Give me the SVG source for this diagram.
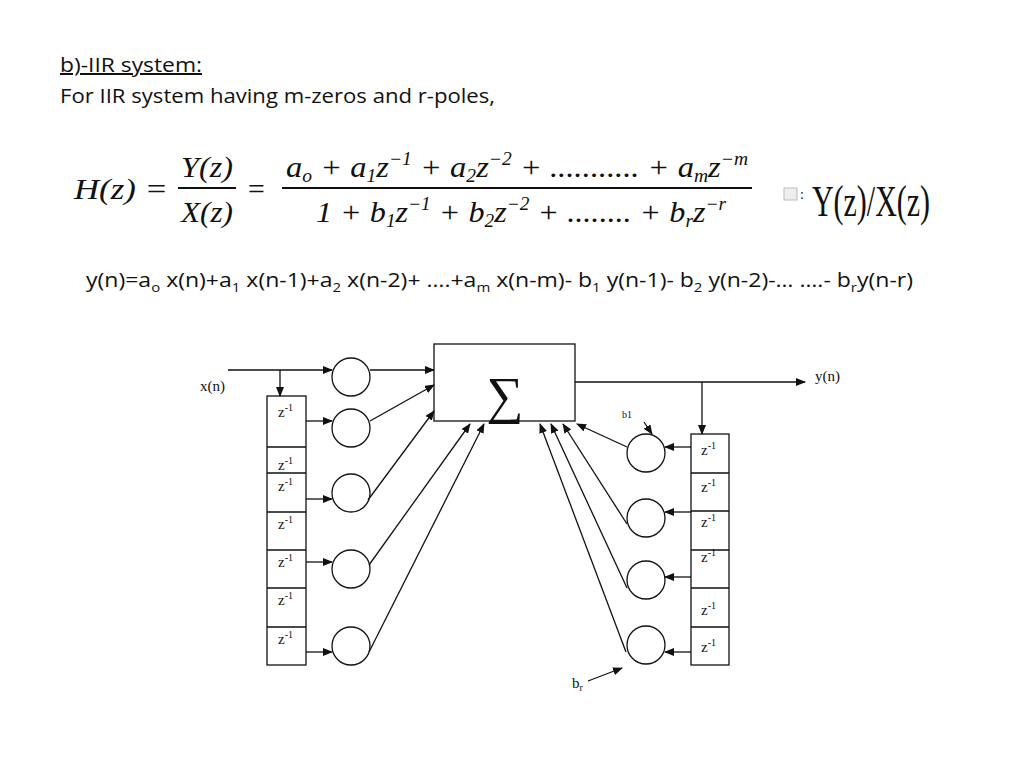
<svg xmlns="http://www.w3.org/2000/svg" width="1024" height="768" viewBox="0 0 1024 768">
<style>
.t{font-family:"Open Sans","Liberation Sans",sans-serif;fill:#111}
.m{font-family:"Liberation Serif",serif;font-style:italic;fill:#111}
.r{font-family:"Liberation Serif",serif;fill:#111}
.s{font-family:"Liberation Serif",serif;fill:#111;font-size:15px}
.ln{stroke:#111;stroke-width:1.3;fill:none}
.bx{stroke:#111;stroke-width:1.3;fill:#fff}
</style>
<defs><marker id="a" markerWidth="10" markerHeight="8" refX="9" refY="4" orient="auto" markerUnits="userSpaceOnUse"><path d="M0,0L10,4L0,8z" fill="#111"/></marker></defs>
<rect width="1024" height="768" fill="#fff"/>
<text class="t" x="60" y="72" font-size="20" text-decoration="underline" textLength="142" lengthAdjust="spacingAndGlyphs">b)-IIR system:</text>
<text class="t" x="60" y="103" font-size="20" textLength="435" lengthAdjust="spacingAndGlyphs">For IIR system having m-zeros and r-poles,</text>
<g id="formula">
<text class="m" x="74" y="199" font-size="30" textLength="94" lengthAdjust="spacingAndGlyphs">H(z) =</text>
<text class="m" x="181" y="177" font-size="30" textLength="52" lengthAdjust="spacingAndGlyphs">Y(z)</text>
<line x1="178" y1="188" x2="236" y2="188" stroke="#111" stroke-width="2"/>
<text class="m" x="181" y="222" font-size="30" textLength="52" lengthAdjust="spacingAndGlyphs">X(z)</text>
<text class="m" x="246" y="199" font-size="30">=</text>
<text class="m" x="286" y="177" font-size="30" textLength="462" lengthAdjust="spacingAndGlyphs">a<tspan font-size="18" dy="5">o</tspan><tspan dy="-5"> + a</tspan><tspan font-size="18" dy="5">1</tspan><tspan dy="-5">z</tspan><tspan font-size="18" dy="-12">−1</tspan><tspan dy="12"> + a</tspan><tspan font-size="18" dy="5">2</tspan><tspan dy="-5">z</tspan><tspan font-size="18" dy="-12">−2</tspan><tspan dy="12"> + ........... + a</tspan><tspan font-size="18" dy="5">m</tspan><tspan dy="-5">z</tspan><tspan font-size="18" dy="-12">−m</tspan></text>
<line x1="282" y1="188" x2="752" y2="188" stroke="#111" stroke-width="2"/>
<text class="m" x="316" y="222" font-size="30" textLength="410" lengthAdjust="spacingAndGlyphs">1 + b<tspan font-size="18" dy="5">1</tspan><tspan dy="-5">z</tspan><tspan font-size="18" dy="-12">−1</tspan><tspan dy="12"> + b</tspan><tspan font-size="18" dy="5">2</tspan><tspan dy="-5">z</tspan><tspan font-size="18" dy="-12">−2</tspan><tspan dy="12"> + ........ + b</tspan><tspan font-size="18" dy="5">r</tspan><tspan dy="-5">z</tspan><tspan font-size="18" dy="-12">−r</tspan></text>
<rect x="784" y="188" width="13" height="12" fill="#eee" stroke="#bbb" stroke-width="1"/>
<text class="r" x="800" y="199" font-size="14" fill="#888">:</text>
<text class="r" x="812" y="216" font-size="44" textLength="118" lengthAdjust="spacingAndGlyphs">Y(z)/X(z)</text>
</g>
<text class="t" x="86" y="287" font-size="20" textLength="827" lengthAdjust="spacingAndGlyphs">y(n)=a<tspan font-size="13" dy="5">o</tspan><tspan dy="-5"> x(n)+a</tspan><tspan font-size="13" dy="5">1</tspan><tspan dy="-5"> x(n-1)+a</tspan><tspan font-size="13" dy="5">2</tspan><tspan dy="-5"> x(n-2)+ ….+a</tspan><tspan font-size="13" dy="5">m</tspan><tspan dy="-5"> x(n-m)- b</tspan><tspan font-size="13" dy="5">1</tspan><tspan dy="-5"> y(n-1)- b</tspan><tspan font-size="13" dy="5">2</tspan><tspan dy="-5"> y(n-2)-… ….- b</tspan><tspan font-size="13" dy="5">r</tspan><tspan dy="-5">y(n-r)</tspan></text>
<g id="sum"><rect class="bx" x="434" y="344" width="141" height="77"/><text class="r" x="505" y="413" font-size="52" text-anchor="middle">∑</text></g>
<g id="delay-left">
<rect class="bx" x="267" y="396" width="39" height="269"/>
<path class="ln" d="M267,447H306M267,473H306M267,512H306M267,550H306M267,588H306M267,627H306"/>
<g class="s"><text x="278" y="417">z<tspan font-size="10" dy="-6">-1</tspan></text><text x="278" y="470">z<tspan font-size="10" dy="-6">-1</tspan></text><text x="278" y="491">z<tspan font-size="10" dy="-6">-1</tspan></text><text x="278" y="529">z<tspan font-size="10" dy="-6">-1</tspan></text><text x="278" y="567">z<tspan font-size="10" dy="-6">-1</tspan></text><text x="278" y="605">z<tspan font-size="10" dy="-6">-1</tspan></text><text x="278" y="644">z<tspan font-size="10" dy="-6">-1</tspan></text></g>
</g>
<g id="delay-right">
<rect class="bx" x="691" y="434" width="38" height="231"/>
<path class="ln" d="M691,473H729M691,511H729M691,550H729M691,588H729M691,627H729"/>
<g class="s"><text x="701" y="455">z<tspan font-size="10" dy="-6">-1</tspan></text><text x="701" y="492">z<tspan font-size="10" dy="-6">-1</tspan></text><text x="701" y="527">z<tspan font-size="10" dy="-6">-1</tspan></text><text x="701" y="562">z<tspan font-size="10" dy="-6">-1</tspan></text><text x="701" y="615">z<tspan font-size="10" dy="-6">-1</tspan></text><text x="701" y="652">z<tspan font-size="10" dy="-6">-1</tspan></text></g>
</g>
<g id="mult-left" class="ln"><circle cx="351" cy="377" r="19"/><circle cx="351" cy="428" r="19"/><circle cx="351" cy="493" r="19"/><circle cx="351" cy="569" r="19"/><circle cx="351" cy="646" r="19"/></g>
<g id="mult-right" class="ln"><circle cx="646" cy="453" r="19"/><circle cx="646" cy="518" r="19"/><circle cx="646" cy="580" r="19"/><circle cx="646" cy="645" r="19"/></g>
<g id="connectors" class="ln">
<path d="M228,370H332" marker-end="url(#a)"/>
<path d="M280,370V396" marker-end="url(#a)"/>
<path d="M306,421H332" marker-end="url(#a)"/>
<path d="M306,499H332" marker-end="url(#a)"/>
<path d="M306,562H332" marker-end="url(#a)"/>
<path d="M306,652H332" marker-end="url(#a)"/>
<path d="M370,370H434" marker-end="url(#a)"/>
<path d="M370,421L434,385" marker-end="url(#a)"/>
<path d="M368,500L434,411" marker-end="url(#a)"/>
<path d="M369,565L470,424" marker-end="url(#a)"/>
<path d="M369,652L484,424" marker-end="url(#a)"/>
<path d="M575,382H805" marker-end="url(#a)"/>
<path d="M702,382V434" marker-end="url(#a)"/>
<path d="M691,447H665" marker-end="url(#a)"/>
<path d="M691,512H665" marker-end="url(#a)"/>
<path d="M691,577H665" marker-end="url(#a)"/>
<path d="M691,652H665" marker-end="url(#a)"/>
<path d="M627,447L577,424" marker-end="url(#a)"/>
<path d="M627,524L563,424" marker-end="url(#a)"/>
<path d="M627,588L551,424" marker-end="url(#a)"/>
<path d="M626,652L540,424" marker-end="url(#a)"/>
<path d="M644,422L652,434" marker-end="url(#a)"/>
<path d="M588,681L622,668" marker-end="url(#a)"/>
</g>
<g class="r" font-size="15"><text x="200" y="391">x(n)</text><text x="815" y="381">y(n)</text><text x="622" y="418" font-size="10">b1</text><text x="572" y="688">b<tspan font-size="10" dy="3">r</tspan></text></g>
</svg>
